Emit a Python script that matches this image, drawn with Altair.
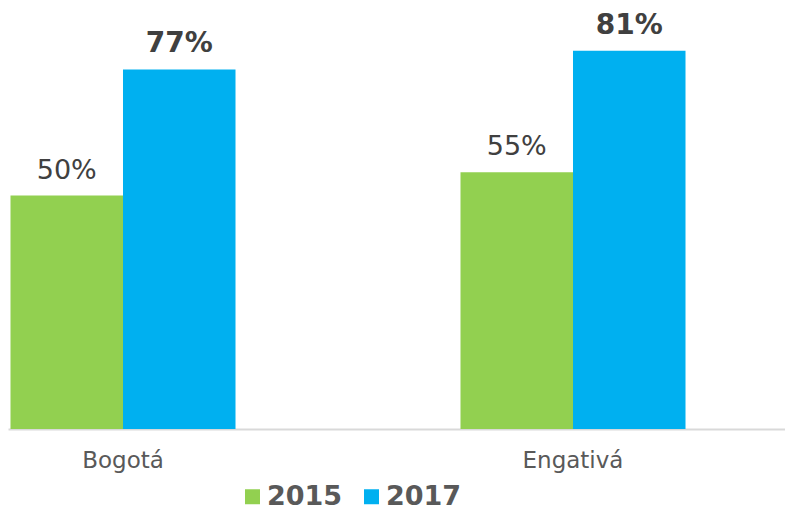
import altair as alt
import pandas as pd

categories = ["Bogotá", "Engativá"]
years = ["2015", "2017"]
values_2015 = [50, 55]
values_2017 = [77, 81]
colors = ["#92D050", "#00B0F0"]

rows = []
for i, c in enumerate(categories):
    rows.append({"cat": c, "year": "2015", "value": values_2015[i]})
    rows.append({"cat": c, "year": "2017", "value": values_2017[i]})
df = pd.DataFrame(rows)

FONT = "DejaVu Sans"

x_enc = alt.X("cat:N", sort=categories,
              scale=alt.Scale(paddingInner=0.48889, paddingOuter=0.10778, align=0),
              axis=alt.Axis(title=None, labelAngle=0, ticks=False, labelFontSize=23,
                            labelFont=FONT, labelColor="#595959", labelPadding=38,
                            labelBaseline="alphabetic", domainColor="#D9D9D9",
                            domainWidth=2, grid=False))
xo_enc = alt.XOffset("year:N", scale=alt.Scale(domain=years, paddingInner=0, paddingOuter=0.0222))
y_enc = alt.Y("value:Q", scale=alt.Scale(domain=[0, 90.15], nice=False), axis=None)

base = alt.Chart(df)

bars = base.mark_bar().encode(
    x=x_enc, xOffset=xo_enc, y=y_enc,
    color=alt.Color("year:N", scale=alt.Scale(domain=years, range=colors),
                    legend=alt.Legend(title=None, orient="none", direction="horizontal",
                                      legendX=231, legendY=475, labelFontSize=27,
                                      labelFont=FONT, labelFontWeight="bold",
                                      labelColor="#595959", symbolType="square",
                                      symbolSize=225, symbolStrokeWidth=0,
                                      labelOffset=1, columnPadding=15, padding=0)),
)

lab15 = base.transform_filter(alt.datum.year == "2015").transform_calculate(
    label="datum.value + '%'"
).mark_text(font=FONT, fontSize=27, color="#404040", baseline="alphabetic", dy=-17).encode(
    x=x_enc, xOffset=xo_enc, y=y_enc, text="label:N"
)

lab17 = base.transform_filter(alt.datum.year == "2017").transform_calculate(
    label="datum.value + '%'"
).mark_text(font=FONT, fontSize=28, fontWeight="bold", color="#404040",
            baseline="alphabetic", dy=-17).encode(
    x=x_enc, xOffset=xo_enc, y=y_enc, text="label:N"
)

chart = alt.layer(bars, lab15, lab17).properties(
    width=777, height=421,
    background="white",
    autosize=alt.AutoSizeParams(type="none"),
    padding={"left": 0, "top": 0, "right": 0, "bottom": 84},
).configure_view(stroke=None)

chart.save("out.html", embed_options={"renderer": "svg", "actions": False})
